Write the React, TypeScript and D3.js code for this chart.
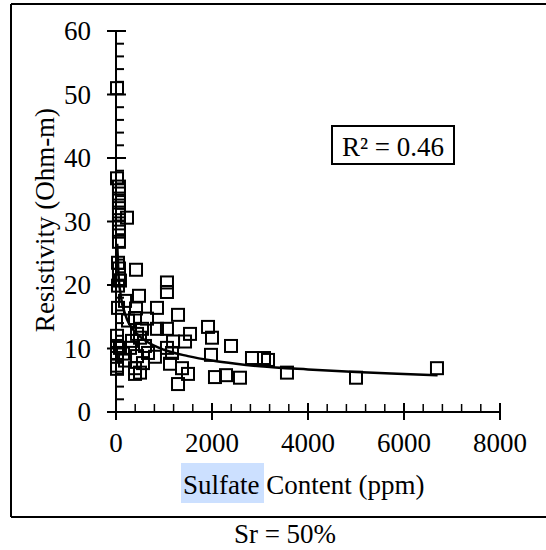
import React from "react";
import * as d3 from "d3";

// Sulfate content (ppm) and resistivity (Ohm-m) of each sample
const sulfate = [
  21, 21, 62, 62, 62, 62, 62, 229, 62, 62, 62,
  42, 62, 62, 83, 42, 417, 1062, 1062, 479, 188, 42, 854, 417, 1292, 646, 396,
  1917, 854, 1062, 1542, 542, 2000, 1438, 1188, 2396, 21, 438, 500, 83, 292,
  1062, 1167, 1979, 2833, 3083, 3167, 812, 438, 146, 1125, 1375, 1500, 2062,
  2292, 2583, 21, 21, 396, 500, 396, 1292, 3562, 5000, 6687,
  250, 333, 604, 188, 562, 667, 21, 21,
];
const resistivity = [
  51.0, 36.8, 35.5, 34.4, 33.3, 32.1, 31.1, 30.6, 29.7, 28.4, 26.8,
  23.5, 22.6, 21.6, 20.7, 19.9, 22.4, 20.4, 18.9, 18.3, 17.5, 16.4, 16.4, 16.3, 15.3, 14.7, 14.8,
  13.4, 13.1, 13.1, 12.3, 13.1, 11.7, 11.1, 11.1, 10.4, 12.0, 12.3, 11.7, 10.1, 10.1,
  10.1, 9.3, 9.0, 8.5, 8.5, 8.2, 8.7, 8.8, 9.2, 7.6, 6.9, 6.0, 5.5,
  5.8, 5.4, 7.3, 6.8, 6.9, 6.2, 6.0, 4.4, 6.2, 5.4, 6.9,
  14.4, 11.2, 10.4, 8.1, 7.7, 9.3, 10.4, 9.3,
];

// Trend line
const trendX = [25, 50, 100, 200, 400, 600, 1000, 1500, 2000, 2500, 3000, 4000, 5000, 6000, 6700];
const trendY = [26.5, 22, 18.3, 15.2, 12.6, 11.3, 9.8, 8.8, 8.1, 7.6, 7.2, 6.7, 6.3, 6.0, 5.8];

const xTicks = [0, 2000, 4000, 6000, 8000];
const yTicks = [0, 10, 20, 30, 40, 50, 60];
const xTitle = ["Sulfate", " Content (ppm)"];
const yTitle = "Resistivity (Ohm-m)";
const rText = "R² = 0.46";
const caption = "Sr = 50%";

export default function App() {
  const W = 546, H = 550;
  const x = d3.scaleLinear().domain([0, 8000]).range([116, 500]);
  const y = d3.scaleLinear().domain([0, 60]).range([412, 31]);
  const font =
    "'Liberation Serif', Tinos, 'Times New Roman', Times, 'Noto Serif', 'DejaVu Serif', FreeSerif, 'Nimbus Roman', serif";
  const xMinor = d3.range(0, 8001, 400).filter((v) => v % 2000 !== 0);
  const yMinor = d3.range(0, 61, 2).filter((v) => v % 10 !== 0);
  const trend = trendX.map((v, i) => [v, trendY[i]] as [number, number]);
  const line = d3
    .line<[number, number]>()
    .x((d) => x(d[0]))
    .y((d) => y(d[1]))
    .curve(d3.curveMonotoneX);
  const s = 12;
  const x0 = x(0), yb = y(0);
  return (
    <svg
      width={W}
      height={H}
      style={{ position: "absolute", left: 0, top: 0, background: "#fff", fontFamily: font }}
    >
      <rect x={0} y={0} width={W} height={H} fill="#fff" />
      {/* outer frame */}
      <line x1={11} y1={4} x2={W} y2={4} stroke="#000" strokeWidth={2} />
      <line x1={11} y1={4} x2={11} y2={517} stroke="#000" strokeWidth={2} />
      <line x1={11} y1={517} x2={W} y2={517} stroke="#000" strokeWidth={2} />

      {/* axes */}
      <line x1={x0} y1={y(60)} x2={x0} y2={yb} stroke="#000" strokeWidth={2} />
      <line x1={x0} y1={yb} x2={x(8000)} y2={yb} stroke="#000" strokeWidth={2} />
      {yTicks.map((t) => (
        <g key={"yt" + t}>
          <line x1={x0 - 9} x2={x0 + 10} y1={y(t)} y2={y(t)} stroke="#000" strokeWidth={2} />
          <text x={91} y={y(t) + 9} fontSize={27} textAnchor="end">
            {t}
          </text>
        </g>
      ))}
      {yMinor.map((t) => (
        <line key={"ym" + t} x1={x0} x2={x0 + 8} y1={y(t)} y2={y(t)} stroke="#000" strokeWidth={2} />
      ))}
      {xTicks.map((t) => (
        <g key={"xt" + t}>
          <line x1={x(t)} x2={x(t)} y1={yb - 9} y2={yb + 8} stroke="#000" strokeWidth={2} />
          <text x={x(t)} y={452} fontSize={27} textAnchor="middle">
            {t}
          </text>
        </g>
      ))}
      {xMinor.map((t) => (
        <line key={"xm" + t} x1={x(t)} x2={x(t)} y1={yb - 8} y2={yb} stroke="#000" strokeWidth={1.5} />
      ))}

      {/* points */}
      {sulfate.map((v, i) => (
        <rect
          key={"p" + i}
          x={x(v) - s / 2}
          y={y(resistivity[i]) - s / 2}
          width={s}
          height={s}
          fill="none"
          stroke="#000"
          strokeWidth={2}
        />
      ))}

      {/* trend */}
      <path d={line(trend) || ""} fill="none" stroke="#000" strokeWidth={2.5} />

      {/* R² box */}
      <rect x={332} y={126} width={122} height={38} fill="#fff" stroke="#000" strokeWidth={2} />
      <text x={393} y={156} fontSize={27} textAnchor="middle">
        {rText}
      </text>

      {/* titles */}
      <rect x={181} y={463} width={83} height={40} fill="#cce0ff" />
      <text x={183} y={494} fontSize={27}>
        <tspan>{xTitle[0]}</tspan>
        <tspan>{xTitle[1]}</tspan>
      </text>
      <text
        transform={`translate(54,220) rotate(-90)`}
        fontSize={27}
        textAnchor="middle"
      >
        {yTitle}
      </text>
      <text x={285} y={543} fontSize={27} textAnchor="middle">
        {caption}
      </text>
    </svg>
  );
}
